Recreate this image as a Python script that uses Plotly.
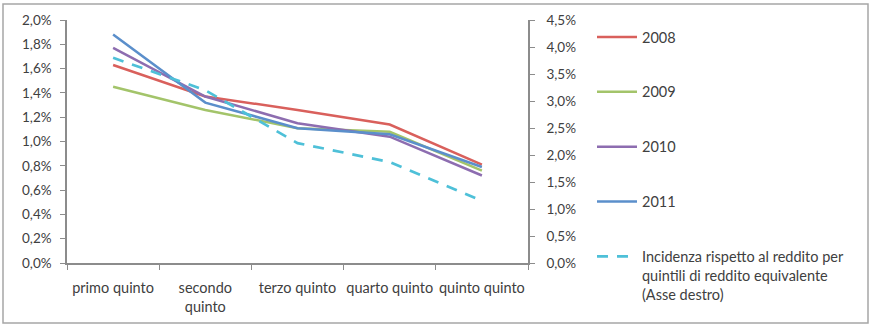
import plotly.graph_objects as go

categories = ["primo quinto", "secondo<br>quinto", "terzo quinto", "quarto quinto", "quinto quinto"]
s2008 = [1.63, 1.37, 1.26, 1.14, 0.81]
s2009 = [1.45, 1.26, 1.11, 1.08, 0.76]
s2010 = [1.77, 1.37, 1.15, 1.04, 0.72]
s2011 = [1.88, 1.32, 1.11, 1.06, 0.79]
incidenza = [3.80, 3.20, 2.22, 1.87, 1.15]
left_ticks = [0, 0.2, 0.4, 0.6, 0.8, 1.0, 1.2, 1.4, 1.6, 1.8, 2.0]
right_ticks = [0, 0.5, 1.0, 1.5, 2.0, 2.5, 3.0, 3.5, 4.0, 4.5]

def pct(v, d=1):
    return f"{v:.{d}f}%".replace(".", ",")

FONT = "Lato, 'Open Sans', sans-serif"
W = 872; H = 329
L, R, T, B = 67, 872 - 528, 20, 329 - 263
pw = W - L - R; ph = H - T - B

fig = go.Figure()
series = [("2008", s2008, "#D9605C"), ("2009", s2009, "#A3C46A"),
          ("2010", s2010, "#8D6DB0"), ("2011", s2011, "#5B8FCB")]
for name, vals, col in series:
    fig.add_trace(go.Scatter(x=categories, y=vals, mode="lines", name=name,
                             line=dict(color=col, width=2.5), legendgroup=name))
fig.add_trace(go.Scatter(x=categories, y=incidenza, mode="lines", yaxis="y2",
                         name="Incidenza rispetto al reddito per<br>quintili di reddito equivalente<br>(Asse destro)",
                         line=dict(color="#4EC0D8", width=2.7, dash="11px,9px"), legendgroup="inc"))

axcol = "#8C8C8C"
fig.update_layout(
    width=W, height=H,
    margin=dict(l=L, r=R, t=T, b=B, autoexpand=False),
    paper_bgcolor="white", plot_bgcolor="white",
    font=dict(family=FONT, size=12, color="#404040"),
    showlegend=True,
    legend=dict(x=(592 - L) / pw, y=1 - (21 - T) / ph, xanchor="left", yanchor="top",
                tracegroupgap=33, font=dict(size=14.5, color="#404040"),
                itemwidth=40, valign="top", maxheight=320,
                bgcolor="rgba(0,0,0,0)"),
    xaxis=dict(type="category", range=[-0.5, 4.5], showgrid=False, showline=True,
               linecolor=axcol, linewidth=1.5, ticks="outside", ticklen=5,
               tickcolor=axcol, tickson="boundaries", tickfont=dict(size=14.5),
               tickangle=0, automargin=False,
               ticklabelstandoff=11, zeroline=False),
    yaxis=dict(range=[0, 2.0], tickvals=left_ticks, ticktext=[pct(v) for v in left_ticks],
               showgrid=False, showline=True, linecolor=axcol, linewidth=1.5,
               ticks="outside", ticklen=5, tickcolor=axcol, zeroline=False,
               automargin=False, tickfont=dict(size=13.5), ticklabelstandoff=6),
    yaxis2=dict(range=[0, 4.5], tickvals=right_ticks, ticktext=[pct(v) for v in right_ticks],
                overlaying="y", side="right", showgrid=False, showline=True,
                linecolor=axcol, linewidth=1.5, ticks="outside", ticklen=5,
                tickcolor=axcol, zeroline=False, tickfont=dict(size=13.5),
                automargin=False, ticklabelstandoff=9),
    shapes=[dict(type="rect", xref="paper", yref="paper",
                 x0=(3 - L) / pw, x1=(868 - L) / pw,
                 y0=1 - (323 - T) / ph, y1=1 - (4 - T) / ph,
                 line=dict(color="#A6A6A6", width=1.5), layer="below")],
)
fig.write_html("out.html")
